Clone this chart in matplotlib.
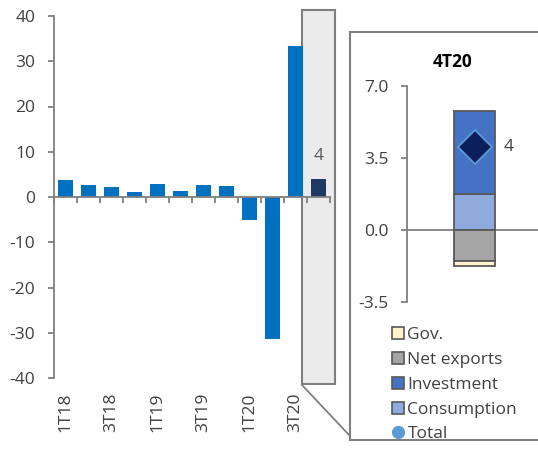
import matplotlib
matplotlib.use("Agg")
import matplotlib.pyplot as plt
from matplotlib.patches import Rectangle
from matplotlib.lines import Line2D
import numpy as np

plt.rcParams['font.family'] = ['Open Sans', 'DejaVu Sans']
plt.rcParams['axes.unicode_minus'] = False

# Quarterly GDP growth (q/q, annualised)
quarters = ["1T18", "2T18", "3T18", "4T18", "1T19", "2T19", "3T19", "4T19",
            "1T20", "2T20", "3T20", "4T20"]
growth = [3.8, 2.7, 2.1, 1.2, 2.9, 1.4, 2.6, 2.4, -5.0, -31.4, 33.4, 4.0]
tick_labels = ["1T18", "3T18", "1T19", "3T19", "1T20", "3T20"]

# Contributions to 4T20 growth (percentage points)
contrib_names = ["Consumption", "Investment", "Net exports", "Gov."]
contrib_values = [1.72, 4.05, -1.51, -0.24]
total_4t20 = 4.0

W, H = 538, 449
fig = plt.figure(figsize=(W / 100, H / 100), dpi=100)
fig.patch.set_facecolor("white")

def fx(x):
    return x / W

def fy(y):
    return 1 - y / H

GRAY = "#7f7f7f"
TXT = "#404040"
FS = 12.5

# ---------------- main chart ----------------
ax = fig.add_axes([fx(54), fy(378), (330 - 54) / W, (378 - 16) / H])
ax.set_facecolor("none")
x = np.arange(len(quarters))
colors = ["#0070c0"] * (len(quarters) - 1) + ["#1f3864"]
ax.bar(x, growth, width=0.68, color=colors, zorder=3)
ax.set_xlim(-0.5, len(quarters) - 0.5)
ax.set_ylim(-40, 40)
ax.set_yticks(np.arange(-40, 41, 10))
ax.set_xticks(np.arange(-0.5, len(quarters), 1.0))
ax.set_xticklabels([])
for s in ["top", "right"]:
    ax.spines[s].set_visible(False)
ax.spines["bottom"].set_position(("data", 0))
for s in ["left", "bottom"]:
    ax.spines[s].set_color(GRAY)
    ax.spines[s].set_linewidth(1.3)
    ax.spines[s].set_zorder(4)
ax.tick_params(axis="y", direction="out", length=4.5, width=1.3, color=GRAY,
               labelsize=FS, labelcolor=TXT, pad=9)
ax.tick_params(axis="x", direction="out", length=4.5, width=1.3, color=GRAY)
for i, q in enumerate(quarters):
    if q in tick_labels:
        ax.text(i, -0.04, q, transform=ax.get_xaxis_transform(), rotation=90,
                ha="center", va="top", fontsize=FS, color=TXT)

# highlight of the last quarter
last = len(quarters) - 1
ax.add_patch(Rectangle((last - 0.72, -41.4), 1.44, 82.7, facecolor="#ebebeb",
                       edgecolor=GRAY, linewidth=1.5, clip_on=False, zorder=0))
ax.text(last, growth[-1] + 5, f"{growth[-1]:.0f}", ha="center", va="center",
        fontsize=FS, color="#595959", zorder=5)

# connector and inset frame
fig.add_artist(Line2D([fx(302), fx(350)], [fy(385), fy(436)], color=GRAY,
                      linewidth=1.3, zorder=-1))
fig.add_artist(Rectangle((fx(350), fy(440)), fx(200), (440 - 32) / H,
                         facecolor="white", edgecolor=GRAY, linewidth=1.5,
                         zorder=-1))

# ---------------- inset: contributions ----------------
ax2 = fig.add_axes([fx(407), fy(301.7), (538 - 407) / W, (301.7 - 85.7) / H])
ax2.set_facecolor("none")
ax2.set_xlim(-1.66, 1.56)
ax2.set_ylim(-3.5, 7.0)
ax2.set_yticks([-3.5, 0.0, 3.5, 7.0])
ax2.set_yticklabels([f"{v:.1f}" for v in [-3.5, 0.0, 3.5, 7.0]])
ax2.set_xticks([])
for s in ["top", "right", "bottom"]:
    ax2.spines[s].set_visible(False)
ax2.spines["left"].set_color(GRAY)
ax2.spines["left"].set_linewidth(1.3)
ax2.tick_params(axis="y", direction="out", length=4.5, width=1.3, color=GRAY,
                labelsize=FS, labelcolor=TXT, pad=9)
ax2.axhline(0, color=GRAY, linewidth=1.3, zorder=1)

fills = {"Consumption": "#8faadc", "Investment": "#4472c4",
         "Net exports": "#a5a5a5", "Gov.": "#fff2cc"}
pos_base, neg_base = 0.0, 0.0
for name, v in zip(contrib_names, contrib_values):
    if v >= 0:
        b = pos_base
        pos_base += v
    else:
        b = neg_base
        neg_base += v
    ax2.bar(0, v, bottom=b, width=1.0, color=fills[name], edgecolor="#595959",
            linewidth=1.3, zorder=3)
ax2.plot(0, total_4t20, marker="D", markersize=17, color="#0b1f5c",
         markeredgecolor="#5b9bd5", markeredgewidth=1.3, zorder=4)
ax2.text(0.83, total_4t20, f"{total_4t20:.0f}", ha="center", va="center",
         fontsize=FS, color=TXT)
fig.text(fx(453), fy(62), "4T20", ha="center", va="center", fontsize=FS,
         fontweight="bold", color="black")

# legend
def box_handle(face):
    return Line2D([], [], linestyle="none", marker="s", markersize=8.5,
                  markerfacecolor=face, markeredgecolor="#595959",
                  markeredgewidth=1.2)

handles = [box_handle(fills["Gov."]), box_handle(fills["Net exports"]),
           box_handle(fills["Investment"]), box_handle(fills["Consumption"]),
           Line2D([], [], linestyle="none", marker="o", markersize=8.5,
                  markerfacecolor="#5b9bd5", markeredgecolor="#5b9bd5")]
labels = ["Gov.", "Net exports", "Investment", "Consumption", "Total"]
fig.legend(handles, labels, loc="upper left",
           bbox_to_anchor=(fx(391), fy(327)), frameon=False, fontsize=FS,
           labelcolor=TXT, handlelength=0.75, handletextpad=0.2,
           labelspacing=0.5, borderpad=0, borderaxespad=0)

fig.savefig("out.png", dpi=100)
